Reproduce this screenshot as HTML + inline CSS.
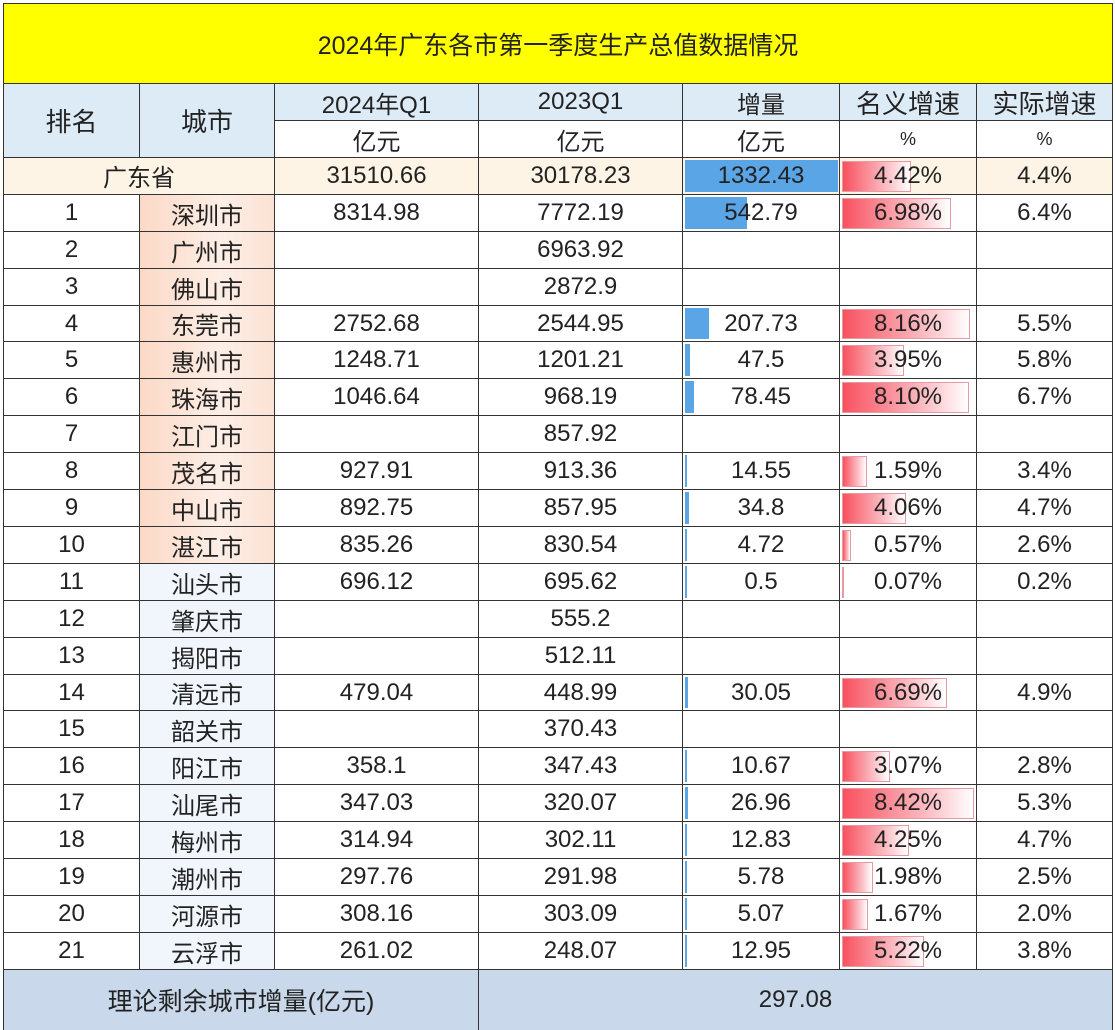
<!DOCTYPE html>
<html><head><meta charset="utf-8">
<style>
body{margin:0;width:1115px;height:1028px;background:#fff;overflow:hidden;font-family:"Liberation Sans","Noto Sans CJK SC",sans-serif;}
#t{position:absolute;left:0;top:0;width:1115px;height:1028px;}
.c{position:absolute;box-sizing:border-box;display:flex;align-items:center;justify-content:center;font-size:24px;color:#222;border-right:1px solid #333;border-bottom:1px solid #333;}
.bar{position:absolute;}
.txt{position:relative;z-index:2}
</style></head><body>
<div id="t"></div>
<script>
const ranks=["1","2","3","4","5","6","7","8","9","10","11","12","13","14","15","16","17","18","19","20","21"];
const cities=["深圳市","广州市","佛山市","东莞市","惠州市","珠海市","江门市","茂名市","中山市","湛江市","汕头市","肇庆市","揭阳市","清远市","韶关市","阳江市","汕尾市","梅州市","潮州市","河源市","云浮市"];
const q2024=["8314.98","","","2752.68","1248.71","1046.64","","927.91","892.75","835.26","696.12","","","479.04","","358.1","347.03","314.94","297.76","308.16","261.02"];
const q2023=["7772.19","6963.92","2872.9","2544.95","1201.21","968.19","857.92","913.36","857.95","830.54","695.62","555.2","512.11","448.99","370.43","347.43","320.07","302.11","291.98","303.09","248.07"];
const incr=[542.79,null,null,207.73,47.5,78.45,null,14.55,34.8,4.72,0.5,null,null,30.05,null,10.67,26.96,12.83,5.78,5.07,12.95];
const nominal=[6.98,null,null,8.16,3.95,8.10,null,1.59,4.06,0.57,0.07,null,null,6.69,null,3.07,8.42,4.25,1.98,1.67,5.22];
const real=["6.4%","","","5.5%","5.8%","6.7%","","3.4%","4.7%","2.6%","0.2%","","","4.9%","","2.8%","5.3%","4.7%","2.5%","2.0%","3.8%"];
const provIncr=1332.43, provNominal=4.42;
const incrMax=1332.43, nomMax=8.42;
const xs=[3,140,275,479,683,840,977,1113];
const T=document.getElementById('t');
function cell(x,y,w,h,txt,bg,name,extra){
  const d=document.createElement('div');d.className='c';
  
  
  d.style.cssText+=`left:${x}px;top:${y}px;width:${w}px;height:${h}px;background:${bg||'transparent'};`+(extra||'');
  const s=document.createElement('span');s.className='txt';s.textContent=txt;d.appendChild(s);
  T.appendChild(d);return d;
}
function incrBar(d,v,h){const b=document.createElement('div');b.className='bar';
  
  
  b.style.cssText=`left:2px;top:2px;height:${h-5}px;width:${Math.max(1.5,v/incrMax*153)}px;background:#5aa5e6;`;d.appendChild(b);}
function nomBar(d,v,h){const b=document.createElement('div');b.className='bar';
  
  
  b.style.cssText=`left:2px;top:3px;height:${h-6}px;width:${Math.max(1.5,v/nomMax*132)}px;background:linear-gradient(90deg,#f8515f,#fbc6cc 70%,#fff);border:1px solid #e89aa2;box-sizing:border-box;`;d.appendChild(b);}
// title
const tt=cell(3,3,1110,81,"2024年广东各市第一季度生产总值数据情况","#ffff00","title","border-left:1px solid #333;border-top:1px solid #333;font-size:25px;");
// headers
const hb='#ddebf7';
cell(3,84,137,74,"排名",hb,"rank-header","border-left:1px solid #333;font-size:26px;");
cell(140,84,135,74,"城市",hb,"city-header","font-size:26px;");
const heads=[["2024年Q1","亿元"],["2023Q1","亿元"],["增量","亿元"],["名义增速","%"],["实际增速","%"]];
heads.forEach((h,i)=>{const x=xs[i+2],w=xs[i+3]-x;
  cell(x,84,w,37,h[0],hb,"column-header",i>=3?"font-size:26px;":"");
  cell(x,121,w,37,h[1],'#fff',"unit-header",h[1]=='%'?"font-size:18px;":"");});
// province row
const rh=36.9;let y=158;const pb='#fdf4e6';
cell(3,y,272,rh,"广东省",pb,"province-name","border-left:1px solid #333;");
cell(275,y,204,rh,"31510.66",pb,"province-2024");
cell(479,y,204,rh,"30178.23",pb,"province-2023");
let d=cell(683,y,157,rh,"1332.43",pb,"province-increment");incrBar(d,provIncr,rh);
d=cell(840,y,137,rh,provNominal.toFixed(2)+"%",pb,"province-nominal");nomBar(d,provNominal,rh);
cell(977,y,136,rh,"4.4%",pb,"province-real");
y+=rh;
for(let i=0;i<ranks.length;i++){
  const Y=Math.round(y),H=Math.round(y+rh)-Y;
  cell(3,Y,137,H,ranks[i],'#fff',"rank-cell","border-left:1px solid #333;");
  cell(140,Y,135,H,cities[i],i<10?'linear-gradient(90deg,#fbd9c6,#fdeee6 60%,#fbe2d4)':'#f1f6fc',"city-cell");
  cell(275,Y,204,H,q2024[i],'#fff',"q1-2024-cell");
  cell(479,Y,204,H,q2023[i],'#fff',"q1-2023-cell");
  d=cell(683,Y,157,H,incr[i]==null?"":String(incr[i]),'#fff',"increment-cell");
  if(incr[i]!=null)incrBar(d,incr[i],H);
  d=cell(840,Y,137,H,nominal[i]==null?"":nominal[i].toFixed(2)+"%",'#fff',"nominal-growth-cell");
  if(nominal[i]!=null)nomBar(d,nominal[i],H);
  cell(977,Y,136,H,real[i],'#fff',"real-growth-cell");
  y+=rh;
}
const fy=Math.round(y);
cell(3,fy,476,1028-fy+2,"理论剩余城市增量(亿元)",'#c9d8ea',"remaining-label","border-left:1px solid #333;border-bottom:none;font-size:25px;");
cell(479,fy,634,1028-fy+2,"297.08",'#c9d8ea',"remaining-value","border-bottom:none;");
</script>
</body></html>
